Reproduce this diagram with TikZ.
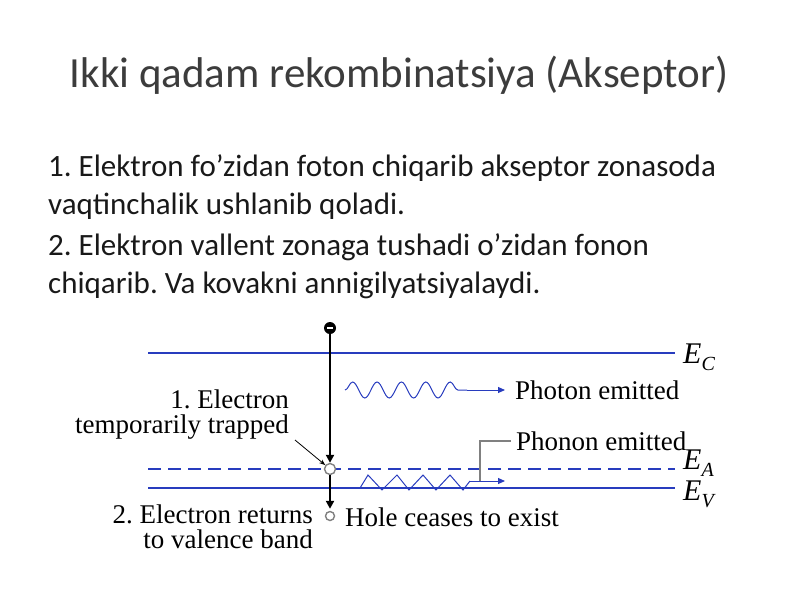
\documentclass[tikz,border=0pt]{standalone}
\usepackage{fontspec}
\setmainfont{Liberation Serif}
\newfontfamily\slidefont{Carlito}
\usepackage{xcolor}
\usetikzlibrary{arrows.meta, positioning, decorations.pathmorphing}
\definecolor{bandblue}{RGB}{40,60,190}
\definecolor{slidegray}{RGB}{60,60,60}
\frenchspacing

\begin{document}
\begin{tikzpicture}[x=1pt, y=-1pt,
    title/.style={font=\slidefont\fontsize{43}{50}\selectfont, text=slidegray},
    bodytext/.style={font=\slidefont\fontsize{31}{38}\selectfont, text=black!90, align=left, anchor=west, inner sep=0pt},
    label/.style={font=\fontsize{27}{25}\selectfont, inner sep=0pt},
    band/.style={bandblue, line width=2.6pt},
    energy/.style={font=\itshape\fontsize{30}{30}\selectfont, inner sep=0pt, anchor=west},
    arr/.style={-{Triangle[length=8pt, width=8pt]}, black, line width=2.4pt},
    blarr/.style={-{Triangle[length=7pt, width=6pt]}, bandblue, line width=1pt},
    state/.style={circle, draw=gray, line width=1.4pt, fill=white, inner sep=0pt, minimum size=11pt},
]
\useasboundingbox (0,0) rectangle (800,600);

% Title and text
\node[title] (ttl) at (399,75) {Ikki qadam rekombinatsiya (Akseptor)};
\node[bodytext] (p1) at (48,187) {1. Elektron fo’zidan foton chiqarib akseptor zonasoda\\vaqtinchalik ushlanib qoladi.};
\node[bodytext] (p2) at (48,266) {2. Elektron vallent zonaga tushadi o’zidan fonon\\chiqarib. Va kovakni annigilyatsiyalaydi.};

% Bands
\coordinate (ecl) at (148,353);
\coordinate (ecr) at (675,353);
\coordinate (eal) at (148,469);
\coordinate (ear) at (675,469);
\coordinate (evl) at (148,488);
\coordinate (evr) at (675,488);
\draw[band] (ecl) -- (ecr);
\draw[band, dash pattern=on 13pt off 7pt] (eal) -- (ear);
\draw[band] (evl) -- (evr);
\node[energy] (ec) at (683,357) {E\raisebox{-7pt}{\fontsize{20}{20}\selectfont C}};
\node[energy] (ea) at (683,463) {E\raisebox{-7pt}{\fontsize{20}{20}\selectfont A}};
\node[energy] (ev) at (683,494) {E\raisebox{-7pt}{\fontsize{20}{20}\selectfont V}};

% Electron path
\node[circle, fill=black, inner sep=0pt, minimum size=12pt] (el) at (330,328) {};
\draw[white, line width=1.2pt] ([xshift=-3pt]el.center) -- ([xshift=3pt]el.center);
\node[state] (trap) at (330,469) {};
\node[state, minimum size=9pt] (hole) at (330,516) {};
\draw[arr] (el) -- (trap);
\draw[arr, shorten >=-1pt] (trap) -- ([yshift=3pt]hole.north);

% Photon
\coordinate (ph0) at (345,390);
\coordinate (ph1) at (467,390);
\coordinate (ph2) at (505,390);
\draw[bandblue, line width=1pt, decorate, decoration={snake, segment length=24.4pt, amplitude=8pt}] (ph0) -- (ph1);
\draw[blarr] (ph1) -- (ph2);
\node[label, anchor=west] (phot) at (515,390) {Photon emitted};

% Phonon
\draw[bandblue, line width=1pt] (360,488) -- (368,475) -- (382,490) -- (397,475) -- (409,490) -- (423,475) -- (436,490) -- (450,475) -- (463,490) -- (470,481) coordinate (pn1);
\coordinate (pn2) at (505,481);
\draw[blarr] (pn1) -- (pn2);
\node[label, anchor=west] (phon) at (516,441) {Phonon emitted};
\coordinate (brk) at (480,481);
\draw[gray, line width=1.2pt] (brk) |- ([xshift=-5pt]phon.west);

% Labels
\node[label, align=right, anchor=east] (trapl) at (289,415) {1. Electron\\temporarily trapped};
\draw[-{Stealth[length=6pt]}, black, line width=0.8pt] (295,440) -- (trap);
\node[label, align=right, anchor=north east] (retl) at (313,505) {2. Electron returns\\to valence band};
\node[label, anchor=west] (holel) at (345,517) {Hole ceases to exist};
\end{tikzpicture}
\end{document}
